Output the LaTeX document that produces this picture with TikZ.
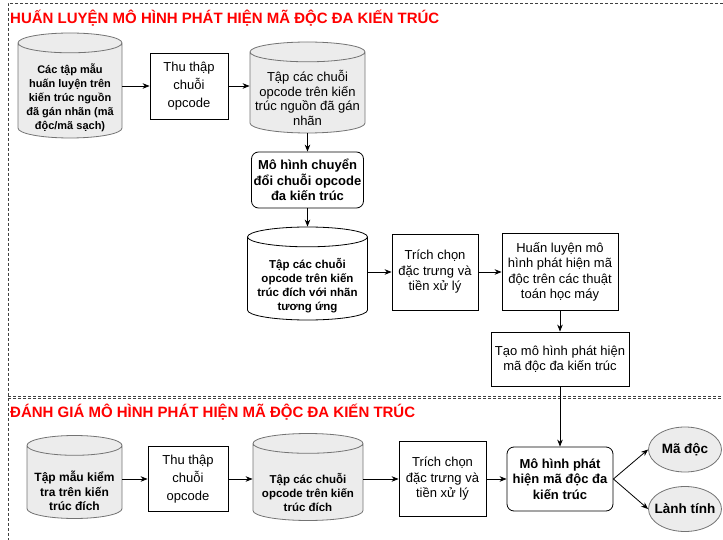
\documentclass[tikz,border=0pt]{standalone}
\usepackage{fontspec}
\setmainfont{Liberation Sans}
\usepackage{tikz}
\usetikzlibrary{shapes.geometric,arrows.meta}

\definecolor{headred}{RGB}{255,0,0}
\definecolor{dbgray}{RGB}{236,236,236}

% blank content that sets the depth of the cylinder caps
\newcommand{\capspace}{\hspace*{90pt}}

\begin{document}
\begin{tikzpicture}[x=1pt,y=-1pt,
  box/.style={draw, line width=0.8pt, align=center, inner sep=1pt, font=\fontsize{13}{15.5}\selectfont},
  model/.style={box, rounded corners=7pt, font=\bfseries\fontsize{13}{15.5}\selectfont},
  store/.style={cylinder, shape border rotate=90, aspect=0.22, inner sep=0pt, anchor=shape center, draw=black!55, fill=dbgray, line width=0.8pt},
  storetext/.style={align=center, inner sep=0pt, font=\bfseries\fontsize{11.5}{14}\selectfont},
  result/.style={ellipse, draw=black!55, fill=dbgray, line width=0.8pt, inner ysep=0pt, inner xsep=-6pt, minimum width=73pt, minimum height=45pt, font=\bfseries\fontsize{13.5}{15}\selectfont},
  flow/.style={-{Stealth[length=7pt,width=5.5pt]}, line width=0.8pt},
  frame/.style={dash pattern=on 3pt off 2pt, line width=0.7pt, black!75},
  title/.style={anchor=base west, inner sep=0pt, text=headred, font=\bfseries\fontsize{15}{18}\selectfont}
]
\useasboundingbox (0,0) rectangle (723,540);

% dashed frames
\draw[frame] (723,3) -- (8,3) -- (8,540);
\draw[frame] (8,396) -- (723,396);
\draw[frame] (8,398.5) -- (723,398.5);

\node[title] (traintitle) at (10,24) {HUẤN LUYỆN MÔ HÌNH PHÁT HIỆN MÃ ĐỘC ĐA KIẾN TRÚC};
\node[title] (evaltitle) at (10,417) {ĐÁNH GIÁ MÔ HÌNH PHÁT HIỆN MÃ ĐỘC ĐA KIẾN TRÚC};

% training part
\node[store, minimum width=104, minimum height=105] (trainset) at (70,85.5) {\capspace};
\node[storetext, font=\bfseries\fontsize{11}{14}\selectfont] (trainsettxt) at (70,97.5) {Các tập mẫu\\huấn luyện trên\\kiến trúc nguồn\\đã gán nhãn (mã\\độc/mã sạch)};
\node[box, minimum width=78, minimum height=66, font=\fontsize{13}{18}\selectfont] (collect1) at (189,86) {Thu thập\\chuỗi\\opcode};
\node[store, minimum width=115, minimum height=91] (srcseq) at (307.5,87.5) {\capspace};
\node[storetext, font=\fontsize{13}{14.5}\selectfont] (srcseqtxt) at (307.5,98) {Tập các chuỗi\\opcode trên kiến\\trúc nguồn đã gán\\nhãn};
\node[model, minimum width=112, minimum height=56] (convert) at (307.5,180) {Mô hình chuyển\\đổi chuỗi opcode\\đa kiến trúc};
\node[store, draw=black, fill=white, minimum width=120, minimum height=93] (tgtseq) at (307.5,273.5) {\capspace};
\node[storetext] (tgtseqtxt) at (307.5,286) {Tập các chuỗi\\opcode trên kiến\\trúc đích với nhãn\\tương ứng};
\node[box, minimum width=86, minimum height=76] (feat1) at (435,272) {Trích chọn\\đặc trưng và\\tiền xử lý};
\node[box, minimum width=116, minimum height=77] (learn) at (560,272) {Huấn luyện mô\\hình phát hiện mã\\độc trên các thuật\\toán học máy};
\node[box, minimum width=138, minimum height=54] (build) at (560,359) {Tạo mô hình phát hiện\\mã độc đa kiến trúc};

\draw[flow] (trainset.east |- collect1) -- (collect1);
\draw[flow] (collect1) -- (collect1 -| srcseq.west);
\draw[flow] (srcseq.bottom) -- (convert);
\draw[flow] (convert) -- (tgtseq.top);
\draw[flow] (tgtseq.east |- feat1) -- (feat1);
\draw[flow] (feat1) -- (learn);
\draw[flow] (learn) -- (build);

% evaluation part
\node[store, minimum width=95, minimum height=83] (testset) at (74.5,477) {\capspace};
\node[storetext, font=\bfseries\fontsize{12}{14.5}\selectfont] (testsettxt) at (74.5,491) {Tập mẫu kiểm\\tra trên kiến\\trúc đích};
\node[box, minimum width=80, minimum height=65, font=\fontsize{13}{18}\selectfont] (collect2) at (188,479) {Thu thập\\chuỗi\\opcode};
\node[store, minimum width=110, minimum height=87] (testseq) at (308,477) {\capspace};
\node[storetext] (testseqtxt) at (308,492) {Tập các chuỗi\\opcode trên kiến\\trúc đích};
\node[box, minimum width=87, minimum height=75] (feat2) at (442.5,479) {Trích chọn\\đặc trưng và\\tiền xử lý};
\node[model, minimum width=106, minimum height=64] (detect) at (560,479) {Mô hình phát\\hiện mã độc đa\\kiến trúc};
\node[result] (malware) at (685,449.5) {Mã độc};
\node[result] (benign) at (685,509) {Lành tính};

\draw[flow] (testset.east |- collect2) -- (collect2);
\draw[flow] (collect2) -- (collect2 -| testseq.west);
\draw[flow] (testseq.east |- feat2) -- (feat2);
\draw[flow] (feat2) -- (detect);
\draw[flow] (build) -- (detect);
\draw[flow] (detect.east) -- (malware.west);
\draw[flow] (detect.east) -- (benign.west);

\end{tikzpicture}
\end{document}
